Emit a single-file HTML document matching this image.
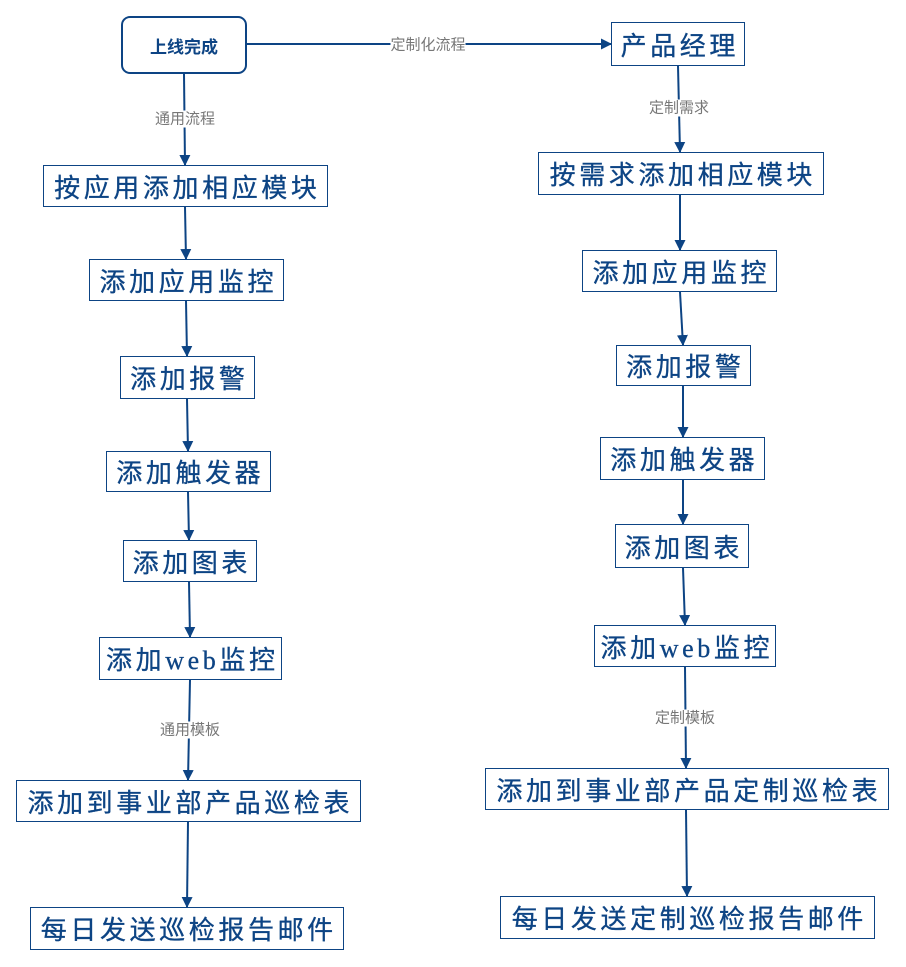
<!DOCTYPE html>
<html><head><meta charset="utf-8"><style>
body{margin:0;width:906px;height:967px;background:#fff;overflow:hidden;position:relative;font-family:"Liberation Sans","Noto Sans CJK SC",sans-serif}
.b{position:absolute;box-sizing:border-box;border:1.3px solid #0d4484;background:#fff;color:#0d4484;display:flex;align-items:center;justify-content:center;font-size:26px;letter-spacing:3.6px;text-indent:3.6px;white-space:nowrap;font-family:"Liberation Serif","Noto Sans CJK SC",sans-serif;-webkit-text-stroke:0.3px #0d4484}
.l{position:absolute;background:#fff;color:#777;font-size:15px;line-height:17px;white-space:nowrap;transform:translate(-50%,-50%)}
svg{position:absolute;left:0;top:0}
</style></head><body>
<svg width="906" height="967">
<defs><marker id="a" markerWidth="12" markerHeight="12" refX="10" refY="5.5" orient="auto" markerUnits="userSpaceOnUse"><path d="M0,0 L11,5.5 L0,11 z" fill="#0d4484"/></marker></defs>
<g stroke="#0d4484" stroke-width="2" fill="none" marker-end="url(#a)">
<line x1="247" y1="44" x2="611" y2="44"/>
<line x1="184" y1="74" x2="185" y2="165"/>
<line x1="185" y1="207" x2="186" y2="259"/>
<line x1="186" y1="301" x2="187" y2="356"/>
<line x1="187" y1="399" x2="188" y2="451"/>
<line x1="188" y1="492" x2="189" y2="540"/>
<line x1="189" y1="582" x2="190" y2="637"/>
<line x1="190" y1="680" x2="188" y2="780"/>
<line x1="188" y1="822" x2="187" y2="907"/>
<line x1="678" y1="66" x2="680" y2="152"/>
<line x1="680" y1="195" x2="680" y2="250"/>
<line x1="680" y1="292" x2="683" y2="345"/>
<line x1="683" y1="386" x2="683" y2="437"/>
<line x1="683" y1="480" x2="683" y2="524"/>
<line x1="683" y1="568" x2="685" y2="625"/>
<line x1="685" y1="667" x2="686" y2="768"/>
<line x1="686" y1="810" x2="687" y2="896"/>
</g></svg>
<div class="b" style="left:121px;top:16px;width:126px;height:58px;border:2px solid #0d4484;border-radius:9px;font-size:17px;font-weight:bold;letter-spacing:0;text-indent:0;font-family:'Liberation Sans','Noto Sans CJK SC',sans-serif;-webkit-text-stroke:0">上线完成</div>
<div class="b" style="left:43px;top:165px;width:285px;height:42px">按应用添加相应模块</div>
<div class="b" style="left:89px;top:259px;width:195px;height:42px">添加应用监控</div>
<div class="b" style="left:120px;top:356px;width:135px;height:43px">添加报警</div>
<div class="b" style="left:106px;top:451px;width:165px;height:41px">添加触发器</div>
<div class="b" style="left:123px;top:540px;width:134px;height:42px">添加图表</div>
<div class="b" style="left:99px;top:637px;width:183px;height:43px">添加web监控</div>
<div class="b" style="left:16px;top:780px;width:345px;height:42px">添加到事业部产品巡检表</div>
<div class="b" style="left:30px;top:907px;width:314px;height:43px">每日发送巡检报告邮件</div>
<div class="b" style="left:611px;top:22px;width:134px;height:44px">产品经理</div>
<div class="b" style="left:538px;top:152px;width:286px;height:43px">按需求添加相应模块</div>
<div class="b" style="left:582px;top:250px;width:195px;height:42px">添加应用监控</div>
<div class="b" style="left:616px;top:345px;width:135px;height:41px">添加报警</div>
<div class="b" style="left:600px;top:437px;width:165px;height:43px">添加触发器</div>
<div class="b" style="left:615px;top:524px;width:134px;height:44px">添加图表</div>
<div class="b" style="left:594px;top:625px;width:182px;height:42px">添加web监控</div>
<div class="b" style="left:485px;top:768px;width:404px;height:42px">添加到事业部产品定制巡检表</div>
<div class="b" style="left:500px;top:896px;width:375px;height:43px">每日发送定制巡检报告邮件</div>
<div class="l" style="left:428px;top:45px">定制化流程</div>
<div class="l" style="left:185px;top:119px">通用流程</div>
<div class="l" style="left:679px;top:108px">定制需求</div>
<div class="l" style="left:190px;top:730px">通用模板</div>
<div class="l" style="left:685px;top:718px">定制模板</div>
</body></html>
